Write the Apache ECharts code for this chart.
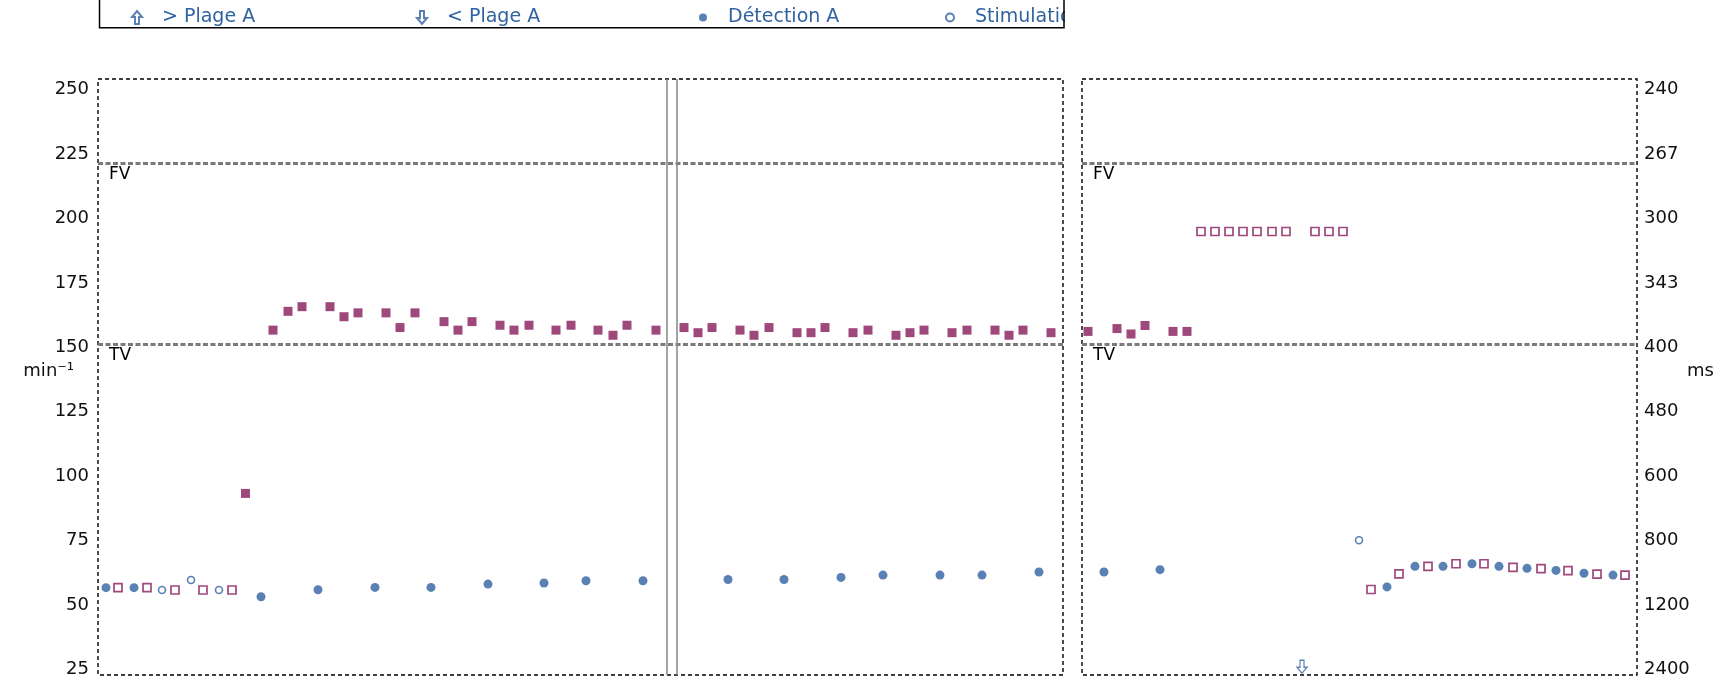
<!DOCTYPE html>
<html>
<head>
<meta charset="utf-8">
<script src="https://cdn.jsdelivr.net/npm/echarts@6/dist/echarts.min.js"></script>
<style>
html, body { margin: 0; padding: 0; background: #fff; }
#chart { width: 1734px; height: 692px; }
</style>
</head>
<body>
<div id="chart"></div>
<script>
// x = time in s from the start of each panel, y = rate in min-1
var bpmTicks = [25, 50, 75, 100, 125, 150, 175, 200, 225, 250];
var msTicks = ['2400', '1200', '800', '600', '480', '400', '343', '300', '267', '240'];
var zoneFV = 221.5;
var zoneTV = 151.3;
var markerTimes = [56.9, 57.9];

// left panel : onset
var leftDetV = [
  [14.75, 93.3], [17.5, 156.7], [19.0, 164.0], [20.4, 165.8], [23.2, 165.8], [24.6, 161.9],
  [26.0, 163.4], [28.8, 163.4], [30.2, 157.7], [31.7, 163.4], [34.6, 160.0], [36.0, 156.7],
  [37.4, 160.0], [40.2, 158.6], [41.6, 156.7], [43.1, 158.6], [45.8, 156.7], [47.3, 158.6],
  [50.0, 156.7], [51.5, 154.7], [52.9, 158.6], [55.8, 156.7], [58.6, 157.7], [60.0, 155.7],
  [61.4, 157.7], [64.2, 156.7], [65.6, 154.7], [67.1, 157.7], [69.9, 155.7], [71.3, 155.7],
  [72.7, 157.7], [75.5, 155.7], [77.0, 156.7], [79.8, 154.7], [81.2, 155.7], [82.6, 156.7],
  [85.4, 155.7], [86.9, 156.7], [89.7, 156.7], [91.1, 154.7], [92.5, 156.7], [95.3, 155.7]
];
var leftStimV = [[2.0, 56.7], [4.9, 56.7], [7.7, 55.8], [10.5, 55.8], [13.4, 55.8]];
var leftDetA = [
  [0.8, 56.7], [3.6, 56.7], [16.3, 53.2], [22.0, 55.9], [27.7, 56.8], [33.3, 56.8],
  [39.0, 58.1], [44.6, 58.5], [48.8, 59.4], [54.5, 59.4], [63.0, 59.9], [68.6, 59.9],
  [74.3, 60.7], [78.5, 61.6], [84.2, 61.6], [88.4, 61.6], [94.1, 62.8]
];
var leftStimA = [[6.4, 55.8], [9.3, 59.7], [12.1, 55.8]];

// right panel : therapy and end
var rightDetV = [[0.6, 156.2], [3.5, 157.3], [4.9, 155.2], [6.3, 158.5], [9.1, 156.2], [10.5, 156.2]];
var rightStimV = [
  [11.9, 195], [13.3, 195], [14.7, 195], [16.1, 195], [17.5, 195], [19.0, 195], [20.4, 195],
  [23.3, 195], [24.7, 195], [26.1, 195],
  [28.9, 56.0], [31.7, 62.1], [34.6, 65.0], [37.4, 66.0], [40.2, 66.0], [43.1, 64.6],
  [45.9, 64.1], [48.6, 63.3], [51.5, 62.0], [54.3, 61.6]
];
var rightDetA = [
  [2.2, 62.8], [7.8, 63.7], [30.5, 57.0], [33.3, 65.0], [36.1, 65.0], [39.0, 66.0],
  [41.7, 65.0], [44.5, 64.2], [47.4, 63.4], [50.2, 62.3], [53.1, 61.6]
];
var rightStimA = [[27.7, 75.1]];
var rightBelowA = [[22.0, 26.0]];
var aboveA = [];

var colV = '#861a5a';
var colA = '#2f62a0';
var arrowUp = 'path://M5,0 L10,6 L7,6 L7,13 L3,13 L3,6 L0,6 Z';
var arrowDown = 'path://M3,0 L7,0 L7,7 L10,7 L5,13 L0,7 L3,7 Z';

var mychart = echarts.init(document.getElementById('chart'));

function zoneLines() {
  return {
    silent: true,
    symbol: 'none',
    animation: false,
    lineStyle: { color: '#7a7a7a', type: [5, 2.5], width: 2.8 },
    label: {
      show: true,
      position: 'insideStartBottom',
      formatter: function (p) { return p.name; },
      color: '#000',
      fontSize: 17,
      distance: [11, 3]
    },
    data: [{ name: 'FV', yAxis: zoneFV }, { name: 'TV', yAxis: zoneTV }]
  };
}

function legendItem(name, left, h) {
  return {
    data: [name],
    left: left,
    top: 8,
    padding: 0,
    itemWidth: 40,
    itemHeight: h,
    selectedMode: false,
    textStyle: { color: colA, fontSize: 19, fontFamily: 'DejaVu Sans' }
  };
}

var yLabel = { customValues: bpmTicks, color: '#111', fontSize: 18, fontFamily: 'DejaVu Sans' };

var option = {
  animation: false,
  textStyle: { fontFamily: 'DejaVu Sans' },
  legend: [
    legendItem('> Plage A', 131, 13),
    legendItem('< Plage A', 416, 13),
    legendItem('Détection A', 699, 8),
    legendItem('Stimulation A', 945, 8)
  ],
  grid: [
    { left: 98, top: 79, width: 965, height: 596, outerBoundsMode: 'none', show: true, borderColor: '#000', borderWidth: 1.4, borderType: [4, 3] },
    { left: 1082, top: 79, width: 555, height: 596, outerBoundsMode: 'none', show: true, borderColor: '#000', borderWidth: 1.4, borderType: [4, 3] }
  ],
  xAxis: [
    { gridIndex: 0, type: 'value', min: 0, max: 96.5, show: false },
    { gridIndex: 1, type: 'value', min: 0, max: 55.5, show: false }
  ],
  yAxis: [
    {
      gridIndex: 0, type: 'value', min: 22.8, max: 254.2, position: 'left',
      axisLine: { show: false }, axisTick: { show: false }, splitLine: { show: false },
      axisLabel: Object.assign({ margin: 9 }, yLabel),
      name: 'min⁻¹', nameLocation: 'middle', nameRotate: 0, nameGap: 24, nameMoveOverlap: false,
      nameTextStyle: { color: '#111', fontSize: 18, verticalAlign: 'bottom', lineHeight: 12 }
    },
    {
      gridIndex: 1, type: 'value', min: 22.8, max: 254.2, position: 'right',
      axisLine: { show: false }, axisTick: { show: false }, splitLine: { show: false },
      axisLabel: Object.assign({
        margin: 7,
        formatter: function (v) { return msTicks[bpmTicks.indexOf(v)]; }
      }, yLabel),
      name: 'ms', nameLocation: 'middle', nameRotate: 0, nameGap: 50, nameMoveOverlap: false,
      nameTextStyle: { color: '#111', fontSize: 18, verticalAlign: 'bottom', lineHeight: 12 }
    }
  ],
  series: [
    {
      name: 'Détection V', type: 'scatter', xAxisIndex: 0, yAxisIndex: 0,
      symbol: 'rect', symbolSize: 9, itemStyle: { color: colV },
      data: leftDetV, markLine: zoneLines()
    },
    {
      name: 'Stimulation V', type: 'scatter', xAxisIndex: 0, yAxisIndex: 0,
      symbol: 'rect', symbolSize: 8, itemStyle: { color: '#fff', borderColor: colV, borderWidth: 1.7 },
      data: leftStimV
    },
    {
      name: 'Détection A', type: 'scatter', xAxisIndex: 0, yAxisIndex: 0,
      symbol: 'circle', symbolSize: 9, itemStyle: { color: colA },
      data: leftDetA,
      markLine: {
        silent: true, symbol: 'none', animation: false,
        lineStyle: { color: '#8c8c8c', type: 'solid', width: 1.6 },
        label: { show: false },
        data: markerTimes.map(function (t) { return { xAxis: t }; })
      }
    },
    {
      name: 'Stimulation A', type: 'scatter', xAxisIndex: 0, yAxisIndex: 0,
      symbol: 'circle', symbolSize: 7, itemStyle: { color: '#fff', borderColor: colA, borderWidth: 1.6 },
      data: leftStimA
    },
    {
      name: '> Plage A', type: 'scatter', xAxisIndex: 0, yAxisIndex: 0,
      symbol: arrowUp, symbolSize: [10, 13], itemStyle: { color: '#fff', borderColor: colA, borderWidth: 1.3 },
      data: aboveA
    },
    {
      name: 'Détection V', type: 'scatter', xAxisIndex: 1, yAxisIndex: 1,
      symbol: 'rect', symbolSize: 9, itemStyle: { color: colV },
      data: rightDetV, markLine: zoneLines()
    },
    {
      name: 'Stimulation V', type: 'scatter', xAxisIndex: 1, yAxisIndex: 1,
      symbol: 'rect', symbolSize: 8, itemStyle: { color: '#fff', borderColor: colV, borderWidth: 1.7 },
      data: rightStimV
    },
    {
      name: 'Détection A', type: 'scatter', xAxisIndex: 1, yAxisIndex: 1,
      symbol: 'circle', symbolSize: 9, itemStyle: { color: colA },
      data: rightDetA
    },
    {
      name: 'Stimulation A', type: 'scatter', xAxisIndex: 1, yAxisIndex: 1,
      symbol: 'circle', symbolSize: 7, itemStyle: { color: '#fff', borderColor: colA, borderWidth: 1.6 },
      data: rightStimA
    },
    {
      name: '< Plage A', type: 'scatter', xAxisIndex: 1, yAxisIndex: 1,
      symbol: arrowDown, symbolSize: [10, 13], itemStyle: { color: '#fff', borderColor: colA, borderWidth: 1.3 },
      data: rightBelowA
    }
  ],
  graphic: [
    // legend frame runs off the top, last entry is cut by it
    { type: 'rect', z: 100, shape: { x: 1065, y: 0, width: 670, height: 40 }, style: { fill: '#fff' } },
    { type: 'rect', z: 101, shape: { x: 99.5, y: -5, width: 964.5, height: 32.7 }, style: { fill: 'none', stroke: '#000', lineWidth: 1.5 } }
  ]
};
mychart.setOption(option);
</script>
</body>
</html>
